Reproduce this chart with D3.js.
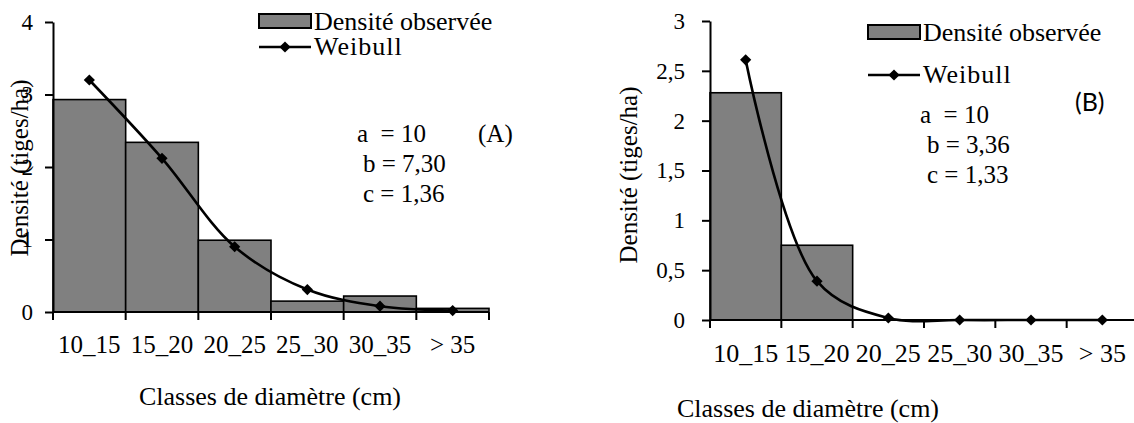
<!DOCTYPE html>
<html>
<head>
<meta charset="utf-8">
<script src="https://cdn.jsdelivr.net/npm/d3@7"></script>
<style>
  body { margin: 0; background: #fff; }
  text { white-space: pre; fill: #000; font-family: 'Liberation Serif', 'Times New Roman', serif; }
  text.sans { font-family: Lato, 'Open Sans', sans-serif; }
</style>
</head>
<body>
<svg id="chart" width="1134" height="423"></svg>
<script>
// diameter classes (cm)
const classes = ['10_15', '15_20', '20_25', '25_30', '30_35', '> 35']

// panel A
const densiteA = [2.93, 2.34, 0.99, 0.15, 0.22, 0.05]
const weibullA = [3.2, 2.12, 0.9, 0.31, 0.08, 0.02]
const ticksA = [0, 1, 2, 3, 4]
const paramsA = ['a  = 10', 'b = 7,30', 'c = 1,36']

// panel B
const densiteB = [2.28, 0.75, 0, 0, 0, 0]
const weibullB = [2.61, 0.39, 0.02, 0, 0, 0]
const ticksB = [0, 0.5, 1, 1.5, 2, 2.5, 3]
const paramsB = ['a  = 10', 'b = 3,36', 'c = 1,33']

const yTitle = 'Densité (tiges/ha)'
const xTitle = 'Classes de diamètre (cm)'
const legendLabels = ['Densité observée', 'Weibull']

const svg = d3.select('#chart')
svg.append('rect').attr('width', 1134).attr('height', 423).attr('fill', '#fff')

const fmt = (d) => String(d).replace('.', ',')

function panel(o) {
  const g = svg.append('g')

  const x = d3.scaleBand().domain(classes).range([o.left, o.right]).padding(0)
  const y = d3.scaleLinear().domain([0, o.yMax]).range([o.bottom, o.top])

  // bars
  g.append('g')
    .selectAll('rect')
    .data(classes.map((c, i) => ({ c, v: o.densite[i] })).filter((d) => d.v > 0))
    .join('rect')
    .attr('x', (d) => x(d.c))
    .attr('y', (d) => y(d.v))
    .attr('width', x.bandwidth())
    .attr('height', (d) => y(0) - y(d.v))
    .attr('fill', '#808080')
    .attr('stroke', '#000')
    .attr('stroke-width', 1.6)

  // y axis
  const ya = g.append('g')
    .attr('transform', `translate(${o.left},0)`)
    .call(d3.axisLeft(y).tickValues(o.yTicks).tickSize(8).tickSizeOuter(0)
      .tickPadding(o.yPad).tickFormat(fmt))
  ya.attr('font-family', null)
  ya.select('.domain').attr('stroke-width', 2)
  ya.selectAll('.tick line').attr('stroke-width', 2)
  ya.selectAll('.tick text').attr('font-size', o.fs)

  // x axis: line, ticks between classes, labels centred
  const xa = g.append('g').attr('transform', `translate(0,${o.bottom})`)
  xa.append('line')
    .attr('x1', o.left).attr('x2', o.right)
    .attr('stroke', '#000').attr('stroke-width', 2)
  xa.selectAll('line.tk')
    .data(classes.map((c) => x(c)).concat([o.right]))
    .join('line')
    .attr('class', 'tk')
    .attr('x1', (d) => d).attr('x2', (d) => d)
    .attr('y1', 0).attr('y2', 8)
    .attr('stroke', '#000').attr('stroke-width', 2)
  xa.selectAll('text')
    .data(classes)
    .join('text')
    .attr('x', (d) => x(d) + x.bandwidth() / 2)
    .attr('y', o.xLabelDy)
    .attr('text-anchor', 'middle')
    .attr('font-size', o.xfs)
    .text((d) => d)

  // Weibull curve
  const pts = classes.map((c, i) => [x(c) + x.bandwidth() / 2, y(o.weibull[i])])
  g.append('path')
    .attr('d', d3.line().curve(d3.curveCatmullRom.alpha(0.5))(pts))
    .attr('fill', 'none')
    .attr('stroke', '#000')
    .attr('stroke-width', 2.6)
  const diamond = d3.symbol().type(d3.symbolDiamond2).size(80)
  g.selectAll('path.mk')
    .data(pts)
    .join('path')
    .attr('class', 'mk')
    .attr('transform', (d) => `translate(${d[0]},${d[1]})`)
    .attr('d', diamond)
    .attr('fill', '#000')

  // axis titles
  g.append('text')
    .attr('transform', `translate(${o.yTitle[0]},${o.yTitle[1]}) rotate(-90)`)
    .attr('text-anchor', 'middle')
    .attr('font-size', o.fs + 2)
    .text(yTitle)
  g.append('text')
    .attr('x', o.xTitle[0]).attr('y', o.xTitle[1])
    .attr('text-anchor', 'middle')
    .attr('font-size', 26)
    .text(xTitle)

  // legend
  const lg = g.append('g').attr('transform', `translate(${o.legend[0]},${o.legend[1]})`)
  lg.append('rect')
    .attr('x', 0).attr('y', 0).attr('width', 52).attr('height', 14)
    .attr('fill', '#808080').attr('stroke', '#000').attr('stroke-width', 2)
  lg.append('text').attr('x', 55).attr('y', 16).attr('font-size', o.fs + 3).text(legendLabels[0])
  lg.append('line')
    .attr('x1', 0).attr('x2', 52).attr('y1', o.legendGap).attr('y2', o.legendGap)
    .attr('stroke', '#000').attr('stroke-width', 2.6)
  lg.append('path')
    .attr('transform', `translate(26,${o.legendGap})`)
    .attr('d', diamond).attr('fill', '#000')
  lg.append('text').attr('x', 55).attr('y', o.legendGap + 8).attr('font-size', o.fs + 3)
    .attr('letter-spacing', 1).text(legendLabels[1])

  // Weibull parameters
  g.selectAll('text.par')
    .data(o.params)
    .join('text')
    .attr('class', 'par')
    .attr('x', (d, i) => o.paramsX[i])
    .attr('y', (d, i) => o.paramsY + i * o.paramsStep)
    .attr('font-size', o.fs + 2)
    .text((d) => d)

  g.append('text')
    .attr('class', o.tagClass)
    .attr('x', o.tag[0]).attr('y', o.tag[1])
    .attr('font-size', o.tagSize)
    .text(o.tagText)
}

panel({
  left: 53, right: 489, top: 22, bottom: 312, yMax: 4,
  densite: densiteA, weibull: weibullA, yTicks: ticksA, yPad: 12, fs: 23, xfs: 25,
  xLabelDy: 41, xTitle: [270, 405], yTitle: [28, 168],
  legend: [259, 14], legendGap: 33,
  params: paramsA, paramsX: [357, 363, 363], paramsY: 142, paramsStep: 30,
  tag: [478, 142], tagText: '(A)', tagClass: 'serif', tagSize: 25,
})

panel({
  left: 710, right: 1138, top: 21, bottom: 320, yMax: 3,
  densite: densiteB, weibull: weibullB, yTicks: ticksB, yPad: 17, fs: 23, xfs: 26,
  xLabelDy: 42, xTitle: [808, 417], yTitle: [637, 175],
  legend: [868, 25], legendGap: 50,
  params: paramsB, paramsX: [920, 927, 927], paramsY: 123, paramsStep: 30,
  tag: [1075, 111], tagText: '(B)', tagClass: 'sans', tagSize: 25,
})
</script>
</body>
</html>
